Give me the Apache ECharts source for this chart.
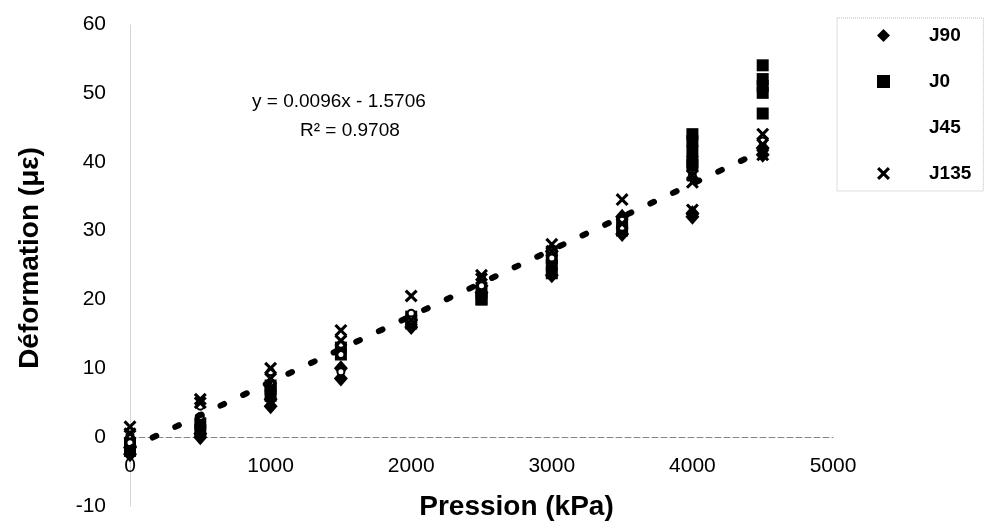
<!DOCTYPE html>
<html>
<head>
<meta charset="utf-8">
<script src="https://cdn.jsdelivr.net/npm/echarts@6/dist/echarts.min.js"></script>
<style>
  html, body { margin: 0; padding: 0; background: #fff; }
  #chart { width: 984px; height: 531px; }
</style>
</head>
<body>
<div id="chart"></div>
<script>
// pression (kPa) de chaque palier
var pressions = [0, 500, 1000, 1500, 2000, 2500, 3000, 3500, 4000, 4500];

// déformations lues pour chaque palier (plusieurs jauges par palier)
var j90 = [[-1.5, -2.5], [0.5, 0], [5.5, 4.5], [10, 8.5], [17, 16], [22, 21], [27, 23.5], [32, 29.5], [32, 32.5], [42, 41]];
var j0 = [[-1, -2], [2, 1], [7.5, 7, 6], [13, 12], [17.5, 16.5], [21, 20, 20], [26, 25, 23.8], [31, 30], [44, 43, 41.5, 40, 39.5], [54, 52, 51, 50, 47]];
var j45 = [[0.3, -0.8], [4.5, 3], [9.5, 8], [13.5, 12, 9.5], [18, 17], [23, 22], [27, 26], [31.5, 30.5], [38], [43]];
var j135 = [[1.5, 0.5], [5.5, 5], [10, 8.5], [15.5, 14], [20.5, 17], [23.5, 23], [28, 27], [34.5, 31], [38, 37, 33], [44, 42.5, 41]];

// courbe de tendance (extrémités)
var trendX = [0, 4500];
var trendY = [-1.6, 41.6];

var xTicks = { min: 0, max: 5000, step: 1000 };
var yTicks = { min: -10, max: 60, step: 10 };

function points(vals) {
    var out = [];
    vals.forEach(function (list, i) {
        list.forEach(function (v) { out.push([pressions[i], v]); });
    });
    return out;
}

var crossPath = 'path://M0,2L2,0L6,4L10,0L12,2L8,6L12,10L10,12L6,8L2,12L0,10L4,6Z';
var font = 'Liberation Sans';

var myChart = echarts.init(document.getElementById('chart'));

var option = {
    animation: false,
    backgroundColor: '#fff',
    textStyle: { fontFamily: font, color: '#000' },
    grid: { left: 130, right: 151, top: 24, bottom: 25, containLabel: false, outerBoundsMode: 'none' },
    legend: {
        orient: 'vertical',
        left: 837,
        top: 18,
        padding: [8, 12, 8, 40],
        itemWidth: 13,
        itemHeight: 13,
        itemGap: 27,
        borderColor: '#bbb',
        borderWidth: 1,
        borderType: 'dotted',
        textStyle: { fontFamily: font, fontSize: 19, fontWeight: 'bold', color: '#000', padding: [0, 0, 0, 34] },
        data: [
            { name: 'J90' },
            { name: 'J0' },
            { name: 'J45', icon: 'none' },
            { name: 'J135' }
        ]
    },
    xAxis: {
        type: 'value',
        min: xTicks.min,
        max: xTicks.max,
        interval: xTicks.step,
        name: 'Pression (kPa)',
        nameLocation: 'middle',
        nameGap: -13,
        nameTextStyle: { fontFamily: font, fontSize: 28, fontWeight: 'bold', color: '#000', padding: [0, 0, 0, 70] },
        axisLine: { show: true, onZero: true, lineStyle: { color: '#888', width: 1, type: [6, 3] } },
        axisTick: { show: false },
        axisLabel: {
            margin: -50, fontSize: 21, color: '#000', fontFamily: font,
            formatter: function (v) { return String(v); }
        },
        splitLine: { show: false }
    },
    yAxis: {
        type: 'value',
        min: yTicks.min,
        max: yTicks.max,
        interval: yTicks.step,
        name: 'Déformation (με)',
        nameLocation: 'middle',
        nameRotate: 90,
        nameGap: 86,
        nameTextStyle: { fontFamily: font, fontSize: 28, fontWeight: 'bold', color: '#000', padding: [0, 0, 0, 14] },
        axisLine: { show: true, lineStyle: { color: '#ccc', width: 1, type: 'dotted' } },
        axisTick: { show: false },
        axisLabel: {
            margin: 24, fontSize: 21, color: '#000', fontFamily: font,
            formatter: function (v) { return String(v); }
        },
        splitLine: { show: false }
    },
    graphic: [
        { type: 'text', left: 252, top: 92, style: { text: 'y = 0.0096x - 1.5706', font: '19px "Liberation Sans"', fill: '#000' } },
        { type: 'text', left: 300, top: 121, style: { text: 'R² = 0.9708', font: '19px "Liberation Sans"', fill: '#000' } }
    ],
    series: [
        {
            name: 'Tendance',
            type: 'line',
            data: trendX.map(function (x, i) { return [x, trendY[i]]; }),
            symbol: 'none',
            lineStyle: { color: '#000', width: 6, type: [4, 21], cap: 'round' },
            silent: true
        },
        {
            name: 'J90',
            type: 'scatter',
            data: points(j90),
            symbol: 'diamond',
            symbolSize: [14, 16],
            itemStyle: { color: '#000', opacity: 1 }
        },
        {
            name: 'J0',
            type: 'scatter',
            data: points(j0),
            symbol: 'rect',
            symbolSize: 12,
            itemStyle: { color: '#000', opacity: 1 }
        },
        {
            name: 'J45',
            type: 'scatter',
            data: points(j45),
            symbol: 'circle',
            symbolSize: 7,
            itemStyle: { color: '#fff', borderColor: '#000', borderWidth: 2, opacity: 1 }
        },
        {
            name: 'J135',
            type: 'scatter',
            data: points(j135),
            symbol: crossPath,
            symbolSize: 13,
            itemStyle: { color: '#000', opacity: 1 }
        }
    ]
};

myChart.setOption(option);
</script>
</body>
</html>
